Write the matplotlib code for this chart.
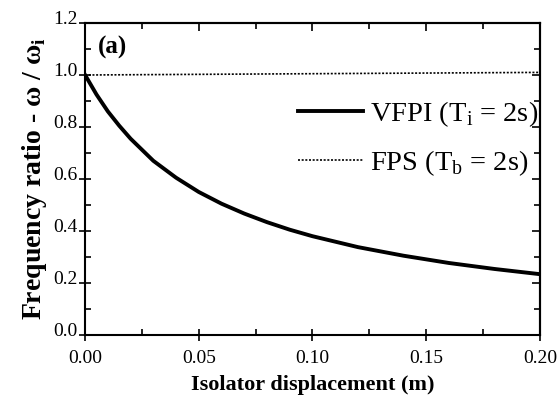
import matplotlib
matplotlib.use('Agg')
import matplotlib.pyplot as plt
import matplotlib.transforms as mtransforms
from matplotlib.ticker import MultipleLocator, FormatStrFormatter, NullFormatter

# data
disp_vfpi = [0.0, 0.005, 0.01, 0.015, 0.02, 0.03, 0.04, 0.05, 0.06, 0.07, 0.08,
             0.09, 0.10, 0.12, 0.14, 0.16, 0.18, 0.20]
ratio_vfpi = [1.00, 0.925, 0.86, 0.805, 0.755, 0.67, 0.605, 0.55, 0.505, 0.467, 0.434,
              0.405, 0.38, 0.338, 0.305, 0.277, 0.254, 0.234]
disp_fps = [0.0, 0.20]
ratio_fps = [1.00, 1.01]

label_vfpi = 'VFPI (T$_\\mathregular{i}$ = 2s)'
label_fps = 'FPS (T$_\\mathregular{b}$ = 2s)'

plt.rcParams['font.family'] = ['Liberation Serif', 'DejaVu Serif']
plt.rcParams['mathtext.fontset'] = 'custom'
plt.rcParams['mathtext.rm'] = 'Liberation Serif'

fig = plt.figure(figsize=(5.6, 4.0), dpi=100)
ax = fig.add_axes([0.152, 0.1625, 0.812, 0.78])

ax.plot(disp_vfpi, ratio_vfpi, color='black', linewidth=2.8, label=label_vfpi)
ax.plot(disp_fps, ratio_fps, color='black', linewidth=1.2, linestyle=(0, (1.2, 1)),
        label=label_fps)

ax.set_xlim(0, 0.2)
ax.set_ylim(0, 1.2)
ax.xaxis.set_major_locator(MultipleLocator(0.05))
ax.xaxis.set_minor_locator(MultipleLocator(0.025))
ax.yaxis.set_major_locator(MultipleLocator(0.2))
ax.yaxis.set_minor_locator(MultipleLocator(0.1))
ax.xaxis.set_major_formatter(FormatStrFormatter('%.2f'))
ax.yaxis.set_major_formatter(FormatStrFormatter('%.1f'))

ax.tick_params(which='both', labelsize=14, width=1.2)
ax.tick_params(which='major', direction='inout', length=9, pad=1)
ax.tick_params(which='minor', direction='in', length=4)
ax.tick_params(axis='x', which='major', pad=6)
for s in ax.spines.values():
    s.set_linewidth(1.5)

# top and right ticks point inwards only
top = ax.secondary_xaxis('top')
top.xaxis.set_major_locator(MultipleLocator(0.05))
top.xaxis.set_minor_locator(MultipleLocator(0.025))
top.xaxis.set_major_formatter(NullFormatter())
right = ax.secondary_yaxis('right')
right.yaxis.set_major_locator(MultipleLocator(0.2))
right.yaxis.set_minor_locator(MultipleLocator(0.1))
right.yaxis.set_major_formatter(NullFormatter())
for sec in (top, right):
    sec.tick_params(which='both', direction='in', width=1.2)
    sec.tick_params(which='major', length=6)
    sec.tick_params(which='minor', length=4)
    for s in sec.spines.values():
        s.set_linewidth(1.5)

# y tick labels sit a little above their ticks in the original
shift = mtransforms.ScaledTranslation(0, 4 / 72, fig.dpi_scale_trans)
for lab in ax.get_yticklabels():
    lab.set_transform(lab.get_transform() + shift)

ax.set_xlabel('Isolator displacement (m)', fontsize=16, fontweight='bold', labelpad=6)
ax.set_ylabel('Frequency ratio - ω / ω$_\\mathregular{i}$', fontsize=20, fontweight='bold', labelpad=3)

ax.text(0.029, 0.96, '(a)', transform=ax.transAxes, fontsize=18, fontweight='bold', va='top')

ax.legend(loc='upper left', bbox_to_anchor=(0.468, 0.755), frameon=False, fontsize=20.5,
          handlelength=2.3, handletextpad=0.22, labelspacing=0.68, borderaxespad=0,
          borderpad=0)

fig.savefig('out.png', dpi=100)
